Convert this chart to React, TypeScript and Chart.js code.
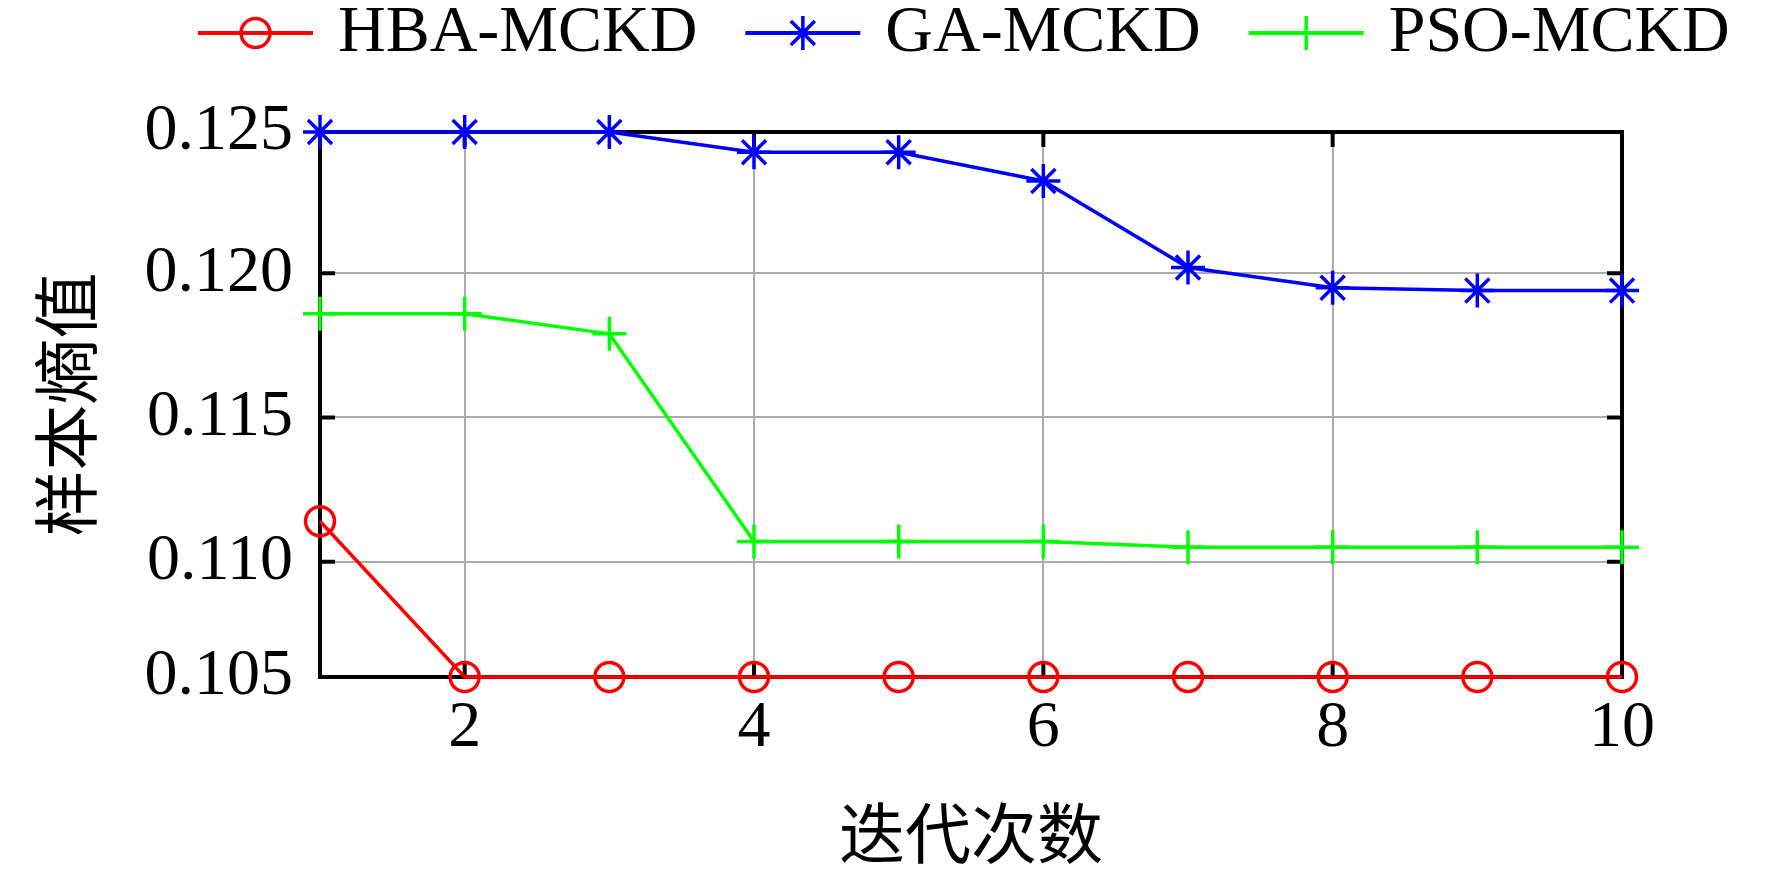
import React, { useEffect, useRef } from "react";
import { Chart, registerables } from "chart.js";
import { drawPoint } from "chart.js/helpers";

Chart.register(...registerables);

const iterations = [1, 2, 3, 4, 5, 6, 7, 8, 9, 10];
const hbaValues = [0.1114, 0.106, 0.106, 0.106, 0.106, 0.106, 0.106, 0.106, 0.106, 0.106];
const gaValues = [0.1249, 0.1249, 0.1249, 0.1242, 0.1242, 0.1232, 0.1202, 0.1195, 0.1194, 0.1194];
const psoValues = [0.1186, 0.1186, 0.1179, 0.1107, 0.1107, 0.1107, 0.1105, 0.1105, 0.1105, 0.1105];
const seriesNames = ["HBA-MCKD", "GA-MCKD", "PSO-MCKD"];
const xTickValues = [2, 4, 6, 8, 10];
const yTickValues = [0.106, 0.11, 0.115, 0.12, 0.1249];
const yTickLabels = ["0.105", "0.110", "0.115", "0.120", "0.125"];
const xAxisTitle = "迭代次数";
const yAxisTitle = "样本熵值";

const FONT = '"Liberation Serif", "Times New Roman", "Noto Sans CJK SC", serif';
const GRID = "#ababab";

const boxPlugin = {
  id: "matlabBox",
  beforeDatasetsDraw(chart: any) {
    const { ctx, chartArea } = chart;
    const { left, right, top, bottom } = chartArea;
    const xs = chart.scales.x;
    const ys = chart.scales.y;
    const tl = 15;
    ctx.save();
    ctx.strokeStyle = "#000";
    ctx.lineWidth = 4;
    ctx.beginPath();
    xs.ticks.forEach((t: any) => {
      if (t.value <= xs.min || t.value >= xs.max) return;
      const px = xs.getPixelForValue(t.value);
      ctx.moveTo(px, bottom);
      ctx.lineTo(px, bottom - tl);
      ctx.moveTo(px, top);
      ctx.lineTo(px, top + tl);
    });
    ys.ticks.forEach((t: any) => {
      if (t.value <= ys.min || t.value >= ys.max) return;
      const py = ys.getPixelForValue(t.value);
      ctx.moveTo(left, py);
      ctx.lineTo(left + tl, py);
      ctx.moveTo(right, py);
      ctx.lineTo(right - tl, py);
    });
    ctx.stroke();
    ctx.strokeRect(left, top, right - left, bottom - top);
    ctx.restore();
  },
};

const legendPlugin = {
  id: "matlabLegend",
  afterDraw(chart: any) {
    const ctx = chart.ctx;
    const y = 33;
    let x = 198;
    ctx.save();
    ctx.font = `66px ${FONT}`;
    ctx.textBaseline = "middle";
    ctx.textAlign = "left";
    chart.data.datasets.forEach((ds: any) => {
      ctx.strokeStyle = ds.borderColor;
      ctx.lineWidth = 4;
      ctx.beginPath();
      ctx.moveTo(x, y);
      ctx.lineTo(x + 115, y);
      ctx.stroke();
      ctx.strokeStyle = ds.pointBorderColor;
      ctx.fillStyle = "rgba(0,0,0,0)";
      ctx.lineWidth = ds.pointBorderWidth;
      drawPoint(
        ctx,
        { pointStyle: ds.pointStyle, radius: ds.pointRadius, rotation: 0, borderWidth: ds.pointBorderWidth },
        x + 57.5,
        y
      );
      ctx.fillStyle = "#000";
      ctx.fillText(ds.label, x + 140, y + 1);
      x += 140 + ctx.measureText(ds.label).width + 48;
    });
    ctx.restore();
  },
};

export default function App() {
  const canvasRef = useRef<HTMLCanvasElement | null>(null);

  useEffect(() => {
    if (!canvasRef.current) return;
    const mk = (vals: number[]) => iterations.map((it, i) => ({ x: it, y: vals[i] }));
    const base = {
      borderWidth: 3.5,
      tension: 0,
      pointBackgroundColor: "rgba(0,0,0,0)",
      pointBorderWidth: 3.5,
      clip: false as any,
    };
    const tickFont = { family: FONT, size: 66, lineHeight: 1 };
    const chart = new Chart(canvasRef.current, {
      type: "line",
      data: {
        datasets: [
          {
            ...base,
            label: seriesNames[0],
            data: mk(hbaValues),
            borderColor: "#ff0000",
            pointBorderColor: "#ff0000",
            pointStyle: "circle",
            pointRadius: 14.5,
            pointHoverRadius: 14.5,
          },
          {
            ...base,
            label: seriesNames[1],
            data: mk(gaValues),
            borderColor: "#0000ff",
            pointBorderColor: "#0000ff",
            pointStyle: "star",
            pointRadius: 17,
            pointHoverRadius: 17,
          },
          {
            ...base,
            label: seriesNames[2],
            data: mk(psoValues),
            borderColor: "#00ff00",
            pointBorderColor: "#00ff00",
            pointStyle: "cross",
            pointRadius: 17,
            pointHoverRadius: 17,
          },
        ],
      },
      options: {
        animation: false,
        responsive: true,
        maintainAspectRatio: false,
        events: [],
        layout: { padding: { top: 132, right: 150, left: 0, bottom: 0 } },
        plugins: {
          legend: { display: false },
          tooltip: { enabled: false },
        },
        scales: {
          x: {
            type: "linear",
            min: iterations[0],
            max: iterations[iterations.length - 1],
            afterBuildTicks: (s: any) => {
              s.ticks = xTickValues.map((v) => ({ value: v }));
            },
            afterFit: (s: any) => {
              s.height = 195;
            },
            grid: { color: GRID, lineWidth: 2, drawTicks: false },
            border: { display: false },
            ticks: {
              font: tickFont,
              color: "#000",
              padding: 19,
              maxRotation: 0,
              autoSkip: false,
              callback: (v: any) => String(v),
            },
            title: {
              display: true,
              text: xAxisTitle,
              color: "#000",
              font: { family: FONT, size: 66, lineHeight: 1 },
              padding: { top: 0, bottom: -2 },
            },
          },
          y: {
            type: "linear",
            min: yTickValues[0],
            max: yTickValues[yTickValues.length - 1],
            afterBuildTicks: (s: any) => {
              s.ticks = yTickValues.map((v) => ({ value: v }));
            },
            afterFit: (s: any) => {
              s.width = 320;
            },
            grid: {
              color: (c: any) =>
                c.index === 0 || c.index === yTickValues.length - 1 ? "rgba(0,0,0,0)" : GRID,
              lineWidth: 2,
              drawTicks: false,
            },
            border: { display: false },
            ticks: {
              font: tickFont,
              color: "#000",
              padding: 27,
              autoSkip: false,
              callback: (_v: any, i: number) => yTickLabels[i],
            },
            title: {
              display: true,
              text: yAxisTitle,
              color: "#000",
              font: { family: FONT, size: 66, lineHeight: 1 },
              padding: { top: 41, bottom: 0 },
            },
          },
        },
      },
      plugins: [boxPlugin, legendPlugin],
    });
    return () => chart.destroy();
  }, []);

  return (
    <div style={{ position: "absolute", left: 0, top: 0, width: 1772, height: 872, background: "#fff" }}>
      <canvas ref={canvasRef} />
    </div>
  );
}
